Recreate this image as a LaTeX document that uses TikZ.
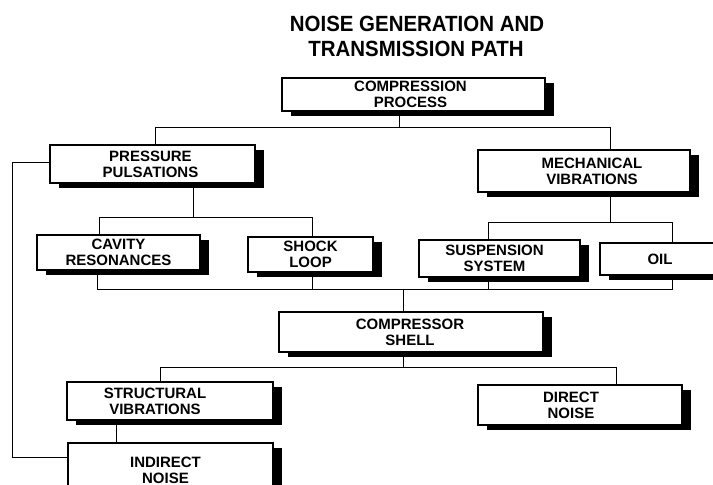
\documentclass[tikz,border=0pt]{standalone}
\usepackage{fontspec}
\setmainfont{Liberation Sans}
\newfontfamily\titlefont[FakeStretch=0.93]{Liberation Sans}
\usetikzlibrary{shadows,backgrounds}
\begin{document}
\begin{tikzpicture}[x=1pt,y=-1pt,
  box/.style={draw, line width=1.1pt, fill=white, inner sep=0pt,
    drop shadow={shadow xshift=9pt, shadow yshift=-5pt, fill=black, opacity=1}},
  txt/.style={align=center, inner sep=0pt, font=\fontsize{15}{16}\selectfont\bfseries},
  ttl/.style={inner sep=0pt, anchor=base, font=\titlefont\fontsize{22}{24}\selectfont\bfseries},
  wire/.style={line width=0.9pt}]
\useasboundingbox (0,0) rectangle (713,485);
\clip (0,0) rectangle (713,485);

% title
\node[ttl] (title1) at (417,31) {NOISE GENERATION AND};
\node[ttl] (title2) at (416,56) {TRANSMISSION PATH};

% boxes
\node[box, minimum width=263pt, minimum height=33pt] (comp) at (413.5,94.5) {};
\node[box, minimum width=205pt, minimum height=38pt] (press) at (152.5,164) {};
\node[box, minimum width=212pt, minimum height=42pt] (mech) at (584,171) {};
\node[box, minimum width=163pt, minimum height=35pt] (cav) at (118.5,252.5) {};
\node[box, minimum width=125pt, minimum height=35pt] (shock) at (310.5,254.5) {};
\node[box, minimum width=161pt, minimum height=37pt] (susp) at (499.5,258.5) {};
\node[box, minimum width=120pt, minimum height=32pt] (oil) at (660,259) {};
\node[box, minimum width=264pt, minimum height=40pt] (shell) at (411,332) {};
\node[box, minimum width=206pt, minimum height=38pt] (struct) at (170,401) {};
\node[box, minimum width=205pt, minimum height=54pt] (indir) at (170.5,470) {};
\node[box, minimum width=204pt, minimum height=40pt] (direct) at (580,405) {};

% texts
\node[txt] (compT) at ([xshift=-3pt]comp.center) {COMPRESSION\\PROCESS};
\node[txt] (pressT) at ([xshift=-2pt]press.center) {PRESSURE\\PULSATIONS};
\node[txt] (mechT) at ([xshift=8pt]mech.center) {MECHANICAL\\VIBRATIONS};
\node[txt] (cavT) at (cav.center) {CAVITY\\RESONANCES};
\node[txt] (shockT) at (shock.center) {SHOCK\\LOOP};
\node[txt] (suspT) at ([xshift=-5pt]susp.center) {SUSPENSION\\SYSTEM};
\node[txt] (oilT) at (oil.center) {OIL};
\node[txt] (shellT) at ([xshift=-1pt]shell.center) {COMPRESSOR\\SHELL};
\node[txt] (structT) at ([xshift=-15pt]struct.center) {STRUCTURAL\\VIBRATIONS};
\node[txt] (indirT) at ([xshift=-5pt,yshift=-0pt]indir.center) {INDIRECT\\NOISE};
\node[txt] (directT) at ([xshift=-9pt]direct.center) {DIRECT\\NOISE};

% connector junctions
\coordinate (t0) at (399,127);
\coordinate (tL) at (155,127);
\coordinate (tR) at (610,127);
\coordinate (pB) at (193,217);
\coordinate (pL) at (99,217);
\coordinate (pR) at (312,217);
\coordinate (mB) at (610,222);
\coordinate (mL) at (488,222);
\coordinate (mR) at (672,222);
\coordinate (bL) at (97,289);
\coordinate (bS) at (312,289);
\coordinate (bU) at (488,289);
\coordinate (bR) at (672,289);
\coordinate (bC) at (403,289);
\coordinate (sC) at (403,367);
\coordinate (sL) at (160,367);
\coordinate (sR) at (616,367);
\coordinate (iC) at (116,430);
\coordinate (lB) at (12,457);
\coordinate (lT) at (12,162);

\begin{scope}[on background layer]
\draw[wire] (comp.south -| t0) -- (t0);
\draw[wire] (press.north -| tL) -- (tL) -- (tR) -- (mech.north -| tR);
\draw[wire] (press.south -| pB) -- (pB);
\draw[wire] (cav.north -| pL) -- (pL) -- (pR) -- (shock.north -| pR);
\draw[wire] (mech.south -| mB) -- (mB);
\draw[wire] (susp.north -| mL) -- (mL) -- (mR) -- (oil.north -| mR);
\draw[wire] (cav.south -| bL) -- (bL) -- (bR) -- (oil.south -| bR);
\draw[wire] (shock.south -| bS) -- (bS);
\draw[wire] (susp.south -| bU) -- (bU);
\draw[wire] (bC) -- (shell.north -| bC);
\draw[wire] (shell.south -| sC) -- (sC);
\draw[wire] (struct.north -| sL) -- (sL) -- (sR) -- (direct.north -| sR);
\draw[wire] (struct.south -| iC) -- (indir.north -| iC);
\draw[wire] (indir.west |- lB) -- (lB) -- (lT) -- (press.west |- lT);
\end{scope}
\end{tikzpicture}
\end{document}
